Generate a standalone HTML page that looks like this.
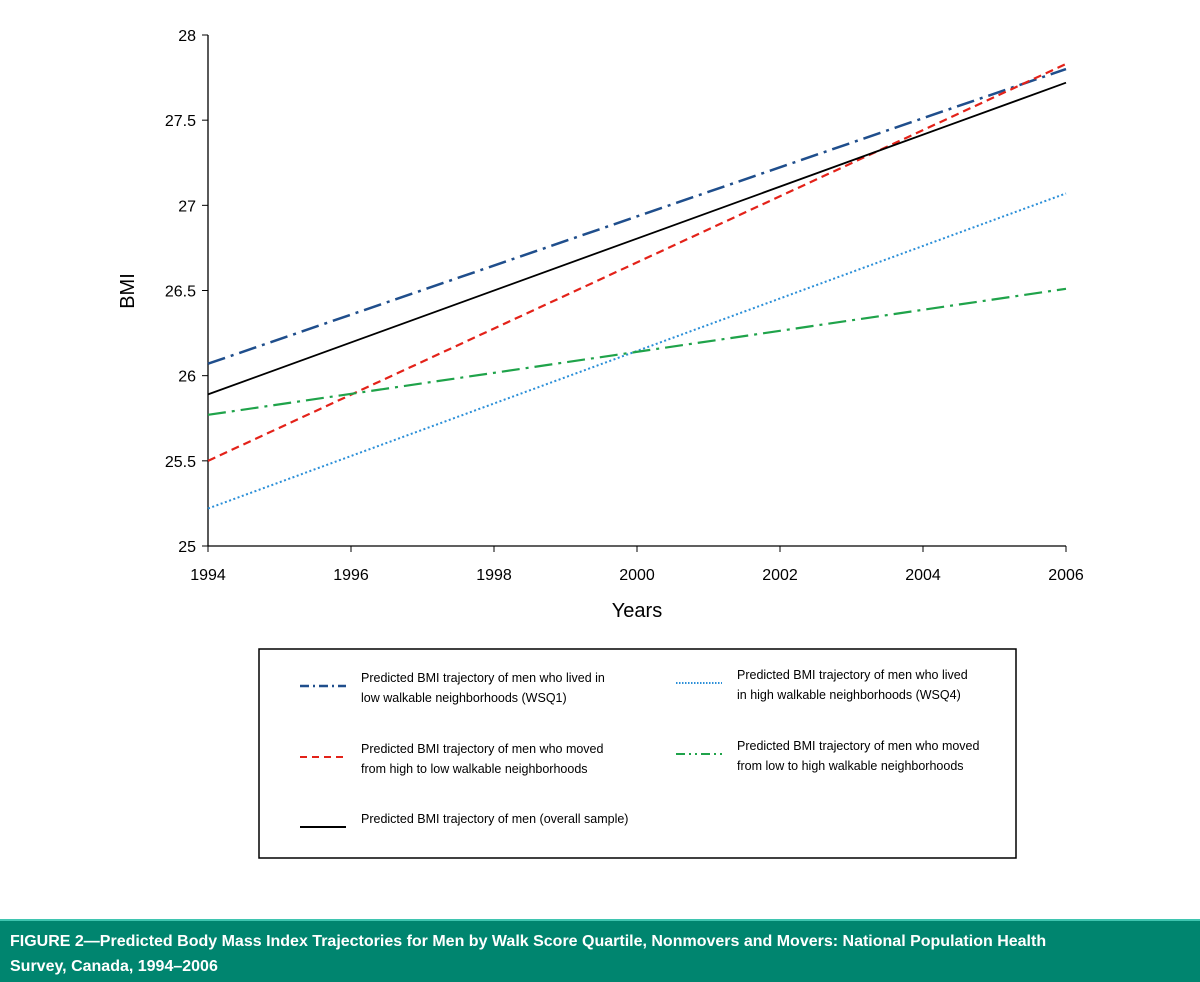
<!DOCTYPE html>
<html><head><meta charset="utf-8"><style>
body{margin:0;width:1200px;height:982px;background:#fff;overflow:hidden;font-family:"Liberation Sans",sans-serif;position:relative}
svg{position:absolute;left:0;top:0}
#footer{position:absolute;left:0;top:919px;width:1200px;height:63px;background:#00856f;border-top:2px solid #3fc5b0;box-sizing:border-box;color:#fff;font-weight:bold;font-size:16px;line-height:25px;padding:8px 10px 0 10px;white-space:nowrap}
</style></head><body>
<svg id="chart" width="1200" height="982"></svg>
<div id="footer">FIGURE 2—Predicted Body Mass Index Trajectories for Men by Walk Score Quartile, Nonmovers and Movers: National Population Health<br>Survey, Canada, 1994–2006</div>
<script>
const years=[1994,2006];
const wsq1=[26.07,27.80];
const highToLow=[25.50,27.83];
const overall=[25.89,27.72];
const wsq4=[25.22,27.07];
const lowToHigh=[25.77,26.51];
const xTicks=[1994,1996,1998,2000,2002,2004,2006];
const yTicks=[25,25.5,26,26.5,27,27.5,28];
const NS="http://www.w3.org/2000/svg";
const svg=document.getElementById('chart');
const X=v=>208+(v-1994)/12*858;
const Y=v=>546-(v-25)/3*511;
function mk(t,a,p){const e=document.createElementNS(NS,t);for(const k in a)e.setAttribute(k,a[k]);(p||svg).appendChild(e);return e;}
let ax=mk('line',{x1:208,y1:35,x2:208,y2:546,stroke:'#000','stroke-width':1.3});


ax=mk('line',{x1:208,y1:546,x2:1066,y2:546,stroke:'#000','stroke-width':1.3});


yTicks.forEach(v=>{mk('line',{x1:202,y1:Y(v),x2:208,y2:Y(v),stroke:'#000'});
const t=mk('text',{x:196,y:Y(v)+6,'text-anchor':'end','font-size':16});t.textContent=v;

});
xTicks.forEach(v=>{mk('line',{x1:X(v),y1:546,x2:X(v),y2:552,stroke:'#000'});
const t=mk('text',{x:X(v),y:580,'text-anchor':'middle','font-size':16});t.textContent=v;

});
let t=mk('text',{x:637,y:617,'text-anchor':'middle','font-size':20});t.textContent='Years';


t=mk('text',{x:0,y:0,'text-anchor':'middle','font-size':20,transform:'translate(134,291) rotate(-90)'});t.textContent='BMI';


const series=[
{d:wsq1,c:'#1f4e8c',da:'18 6 3 6',w:2.5,n:'line-wsq1'},
{d:highToLow,c:'#e32219',da:'8 5',w:2.2,n:'line-high-to-low'},
{d:overall,c:'#000',da:'',w:1.8,n:'line-overall'},
{d:wsq4,c:'#2b8fd8',da:'2 2.5',w:2,n:'line-wsq4'},
{d:lowToHigh,c:'#1fa34a',da:'18 6 3 6',w:2.2,n:'line-low-to-high'}];
series.forEach(s=>{const l=mk('line',{x1:X(years[0]),y1:Y(s.d[0]),x2:X(years[1]),y2:Y(s.d[1]),stroke:s.c,'stroke-width':s.w,'stroke-dasharray':s.da});

});
const box=mk('rect',{x:259,y:649,width:757,height:209,fill:'none',stroke:'#000','stroke-width':1.5});


const leg=[
{x:300,y:686,c:'#1f4e8c',da:'9 4 2 4',w:2.5,l:['Predicted BMI trajectory of men who lived in','low walkable neighborhoods (WSQ1)']},
{x:676,y:683,c:'#2b8fd8',da:'1.5 1.5',w:2,l:['Predicted BMI trajectory of men who lived','in high walkable neighborhoods (WSQ4)']},
{x:300,y:757,c:'#e32219',da:'7 5',w:2,l:['Predicted BMI trajectory of men who moved','from high to low walkable neighborhoods']},
{x:676,y:754,c:'#1fa34a',da:'9 4 2 4 2 4',w:2,l:['Predicted BMI trajectory of men who moved','from low to high walkable neighborhoods']},
{x:300,y:827,c:'#000',da:'',w:2,l:['Predicted BMI trajectory of men (overall sample)']}];
leg.forEach(e=>{const l=mk('line',{x1:e.x,y1:e.y,x2:e.x+46,y2:e.y,stroke:e.c,'stroke-width':e.w,'stroke-dasharray':e.da});


e.l.forEach((s,i)=>{const tx=mk('text',{x:e.x+61,y:e.y-4+i*20,'font-size':12.5});tx.textContent=s;

});});
</script>
</body></html>
